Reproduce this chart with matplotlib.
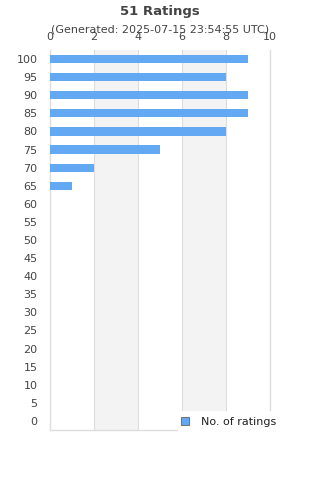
import matplotlib
matplotlib.use("Agg")
import matplotlib.pyplot as plt
from matplotlib.patches import Patch, Rectangle

categories = [str(v) for v in range(0, 101, 5)]
counts = [0]*13 + [1, 2, 5, 8, 9, 9, 8, 9]
x_ticks = [0, 2, 4, 6, 8, 10]
title = "51 Ratings"
subtitle = "(Generated: 2025-07-15 23:54:55 UTC)"
series_name = "No. of ratings"

bar_color = "#62a8f3"
text_color = "#444444"
grid_color = "#dddddd"

fig = plt.figure(figsize=(3.2, 4.8), dpi=100)
ax = fig.add_axes([50/320, 1-430/480, 220/320, 380/480])

ypos = list(range(len(categories)))
ax.barh(ypos, counts, height=0.45, color=bar_color, zorder=3)
ax.set_ylim(-0.5, len(categories)-0.5)
ax.set_xlim(0, 10)

for i in range(0, len(x_ticks)-1):
    if i % 2 == 1:
        ax.axvspan(x_ticks[i], x_ticks[i+1], color="#f3f3f3", zorder=0, lw=0)
for t in x_ticks[1:]:
    ax.axvline(t, color=grid_color, lw=0.8, zorder=1)

ax.set_yticks(ypos)
ax.set_yticklabels(categories)
ax.set_xticks(x_ticks)
ax.xaxis.tick_top()
ax.tick_params(axis="both", length=0, labelsize=8, colors=text_color)
ax.tick_params(axis="x", pad=6)
ax.tick_params(axis="y", pad=9)

ax.spines["top"].set_visible(False)
for s in ["left", "bottom", "right"]:
    ax.spines[s].set_color(grid_color)
    ax.spines[s].set_linewidth(1)

fig.text(0.5, 1-11/480, title, ha="center", va="center", fontsize=9.5,
         fontweight="bold", color=text_color)
fig.text(0.5, 1-30/480, subtitle, ha="center", va="center", fontsize=8,
         color=text_color)

cover = Rectangle((178/320, 1-433/480), 142/320, 22/480, transform=fig.transFigure,
                  facecolor="white", edgecolor="none", zorder=10)
fig.patches.append(cover)

handle = Patch(facecolor=bar_color, edgecolor="#777777", linewidth=0.8)
leg = fig.legend([handle], [series_name], loc="center left",
                 bbox_to_anchor=(181/320, 1-422/480), frameon=False,
                 fontsize=8, handlelength=0.7, handleheight=0.7,
                 handletextpad=1.1, borderpad=0, borderaxespad=0)
leg.set_zorder(11)
for t in leg.get_texts():
    t.set_color("#222222")

fig.savefig("out.png", dpi=100)
